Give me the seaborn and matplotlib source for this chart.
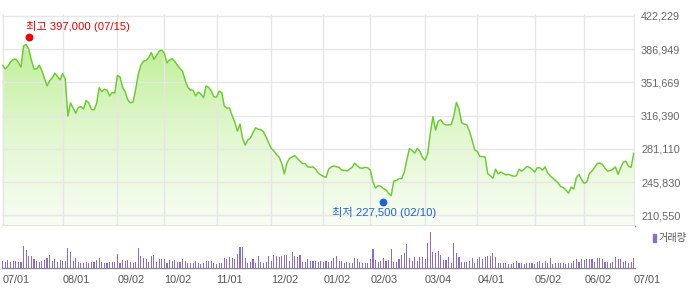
import numpy as np
import pandas as pd
import seaborn as sns
import matplotlib
matplotlib.use("Agg")
import matplotlib.pyplot as plt
from matplotlib.colors import LinearSegmentedColormap
from matplotlib.transforms import offset_copy
from matplotlib.patches import Rectangle

# ---------------- data ----------------
price = [
    370000, 366000, 369000, 373500, 376000, 376500, 373000, 368000, 390500, 392000,
    387000, 375500, 366000, 366000, 370000, 364500, 356000, 348000, 353500, 356500,
    361500, 358000, 354500, 361000, 355500, 316000, 330000, 324500, 319000, 325000,
    326000, 323500, 332500, 330000, 323000, 322500, 329000, 346000, 342000, 344500,
    343500, 337500, 341000, 340500, 359000, 357500, 346500, 341500, 333000, 330000,
    331000, 344500, 360500, 370000, 374500, 375000, 378000, 383500, 376000, 380500,
    385000, 386000, 382500, 372500, 375500, 377000, 374000, 370000, 366500, 363500,
    353500, 346500, 343500, 343500, 337500, 341500, 339500, 335500, 348000, 346500,
    342500, 336500, 336000, 342500, 341000, 326500, 324500, 324500, 316500, 309500,
    300000, 307500, 292500, 285000, 290500, 292500, 298500, 303500, 302000, 301500,
    299500, 293500, 287500, 281500, 279000, 275000, 272500, 266000, 254500, 266000,
    271000, 272500, 274000, 271000, 268000, 265500, 265500, 262000, 261500, 262000,
    259500, 255500, 253500, 252000, 251000, 259500, 262000, 263000, 262000, 261500,
    258500, 258500, 257500, 259500, 261500, 266000, 263000, 261000, 260500, 261500,
    261000, 258500, 246000, 239500, 242000, 241500, 239000, 237500, 234000, 231500,
    247000, 247500, 249500, 249500, 256500, 269500, 281500, 279500, 276500, 281500,
    278500, 272000, 269000, 276500, 298000, 315500, 301000, 310500, 312000, 308000,
    306500, 306500, 307000, 316000, 330500, 323500, 309000, 307500, 306500, 300000,
    290500, 280000, 278500, 273000, 273000, 272500, 255000, 252500, 250000, 259500,
    254500, 256500, 255000, 253500, 254000, 253000, 252000, 252500, 259500, 257500,
    259500, 262500, 261500, 259500, 256500, 261000, 261000, 258500, 262000, 255500,
    252500, 250000, 247500, 245000, 241000, 240000, 237500, 234000, 240500, 238500,
    250500, 254000, 248500, 244500, 246000, 255000, 257500, 261500, 265500, 266000,
    264500, 260500, 257500, 258000, 259500, 262000, 254000, 261000, 267000, 268000,
    262500, 261500, 276500,
]

volume = [  # thousand shares
    22, 20, 25, 20, 22, 23, 20, 20, 67, 55, 37, 37, 28, 21, 20, 23, 25, 30, 40, 23,
    27, 20, 25, 21, 23, 61, 48, 22, 31, 20, 15, 17, 19, 17, 19, 18, 25, 32, 19, 17,
    16, 19, 19, 19, 43, 15, 24, 23, 25, 20, 17, 19, 61, 37, 32, 29, 20, 37, 40, 19,
    27, 27, 27, 15, 25, 22, 25, 20, 19, 27, 23, 15, 15, 15, 21, 17, 13, 15, 22, 22,
    21, 17, 13, 15, 15, 30, 27, 33, 32, 27, 43, 64, 64, 30, 17, 20, 27, 15, 37, 19,
    17, 19, 37, 22, 40, 37, 33, 37, 40, 40, 22, 48, 37, 33, 40, 18, 19, 27, 21, 21,
    23, 19, 23, 18, 23, 19, 23, 30, 37, 21, 21, 17, 19,
    17, 15, 30, 27, 19, 15, 15, 15, 28, 58, 25, 20, 23, 30, 22, 25, 58, 20, 19, 27,
    39, 45, 73, 30, 23, 33, 23, 35, 33, 27, 77, 109, 49, 45, 52, 40, 25, 25, 33, 17,
    77, 47, 33, 19, 19, 19, 23, 31, 17, 27, 33, 28, 35, 37, 37, 45, 33, 17, 17, 15,
    15, 13, 12, 15, 21, 17, 15, 13, 15, 15, 15, 14, 19, 21, 17, 21, 15, 30, 13, 17,
    15, 15, 15, 13, 15, 17, 21, 27, 20, 27, 25, 27, 29, 29, 19, 31, 31, 29, 19, 19,
    15, 19, 33, 29, 27, 19, 23, 17, 19, 30,
]

tick_pos = [0, 23, 44, 62, 82, 103, 123, 141, 162, 182, 204, 223, 242]
tick_labels = ["07/01", "08/01", "09/02", "10/02", "11/01", "12/02", "01/02",
               "02/03", "03/04", "04/01", "05/02", "06/02", "07/01"]
price_ticks = [210550, 245830, 281110, 316390, 351669, 386949, 422229]

high_idx, high_val, high_label = 10, 397000, "최고 397,000 (07/15)"
low_idx, low_val, low_label = 146, 227500, "최저 227,500 (02/10)"

df = pd.DataFrame({"day": np.arange(len(price)), "price": price, "volume": volume})

# ---------------- style ----------------
sns.set_style("white")
plt.rcParams["font.family"] = ["Liberation Sans", "Noto Sans CJK KR", "DejaVu Sans"]

W, H = 700, 289
fig = plt.figure(figsize=(W / 100, H / 100), dpi=100)

def frac_box(x0, x1, ytop, ybot):
    return [x0 / W, 1 - ybot / H, (x1 - x0) / W, (ybot - ytop) / H]

XL, XR = -0.3, 242.3
ax = fig.add_axes(frac_box(1.92, 634.5, 14, 226))
axv = fig.add_axes(frac_box(1.92, 634.5, 226, 268.3))

YLO, YHI = 199188, 424353
LINE = "#6acb30"
GRID = "#e6e6e6"
AXC = "#8a8a8a"
VOLC = "#8a6ccc"

# gradient fill under the price line
poly = ax.fill_between(df["day"], df["price"], YLO, color="none", lw=0)
cmap = LinearSegmentedColormap.from_list("g", ["#f8fdf4", "#e2f8d0", "#c0ef98"])
grad = np.linspace(0, 1, 256).reshape(-1, 1)
im = ax.imshow(grad, extent=[XL, XR, YLO, max(price)], origin="lower",
               aspect="auto", cmap=cmap, zorder=1)
im.set_clip_path(poly.get_paths()[0], transform=ax.transData)

sns.lineplot(data=df, x="day", y="price", ax=ax, color=LINE, lw=1.05,
             zorder=3, legend=False)

ax.set_xlim(XL, XR)
ax.set_ylim(YLO, YHI)
ax.set_axisbelow(False)
ax.set_xticks(tick_pos)
ax.set_xticklabels([])
ax.tick_params(axis="x", length=0)
ax.set_yticks(price_ticks)
ax.set_yticklabels([f"{v:,}" for v in price_ticks])
ax.yaxis.tick_right()
ax.tick_params(axis="y", length=0, pad=4.7, labelsize=7.8, labelcolor="#666666")
ax.grid(True, color=GRID, lw=1.0)
for s in ["top", "left", "right"]:
    ax.spines[s].set_visible(False)
ax.spines["bottom"].set_color(AXC)
ax.spines["bottom"].set_linewidth(1.0)
ax.set_xlabel("")
ax.set_ylabel("")

# high / low markers
red, blue = "#ee0000", "#1e64d2"
ax.plot([high_idx], [high_val], "o", color=red, ms=4.6, zorder=5,
        transform=offset_copy(ax.transData, fig, y=2.5, units="dots"))
ax.annotate(high_label, (high_idx, high_val), xytext=(-1.9, 9.9),
            textcoords="offset points", ha="left", va="center",
            fontsize=8.1, color=red, zorder=6)
ax.plot([low_idx], [low_val], "o", color=blue, ms=4.6, zorder=5,
        transform=offset_copy(ax.transData, fig, y=-3, units="dots"))
ax.annotate(low_label, (low_idx, low_val), xytext=(0.6, -9.3),
            textcoords="offset points", ha="center", va="center",
            fontsize=8.1, color=blue, zorder=6)

# volume
sns.barplot(data=df, x="day", y="volume", ax=axv, native_scale=True,
            color=VOLC, width=0.42, saturation=1, linewidth=0)
axv.set_xlim(XL, XR)
axv.set_ylim(0, 127)
axv.set_yticks([])
axv.set_xticks(tick_pos)
axv.set_xticklabels(tick_labels, ha="left")
axv.tick_params(axis="x", length=3, width=1, color=AXC, pad=1.5,
                labelsize=7.8, labelcolor="#555555", direction="out")
for s in ["top", "left", "right"]:
    axv.spines[s].set_visible(False)
axv.spines["bottom"].set_color(AXC)
axv.spines["bottom"].set_linewidth(1.0)
axv.set_xlabel("")
axv.set_ylabel("")
axv.grid(False)

# legend for volume
fig.patches.append(Rectangle((652.7 / W, 1 - 241.7 / H), 2.8 / W, 7.7 / H,
                             transform=fig.transFigure, color=VOLC))
fig.text(658.3 / W, 1 - 238 / H, "거래량", fontsize=7.3, color="#555555",
         ha="left", va="center")

fig.savefig("out.png", dpi=100)
